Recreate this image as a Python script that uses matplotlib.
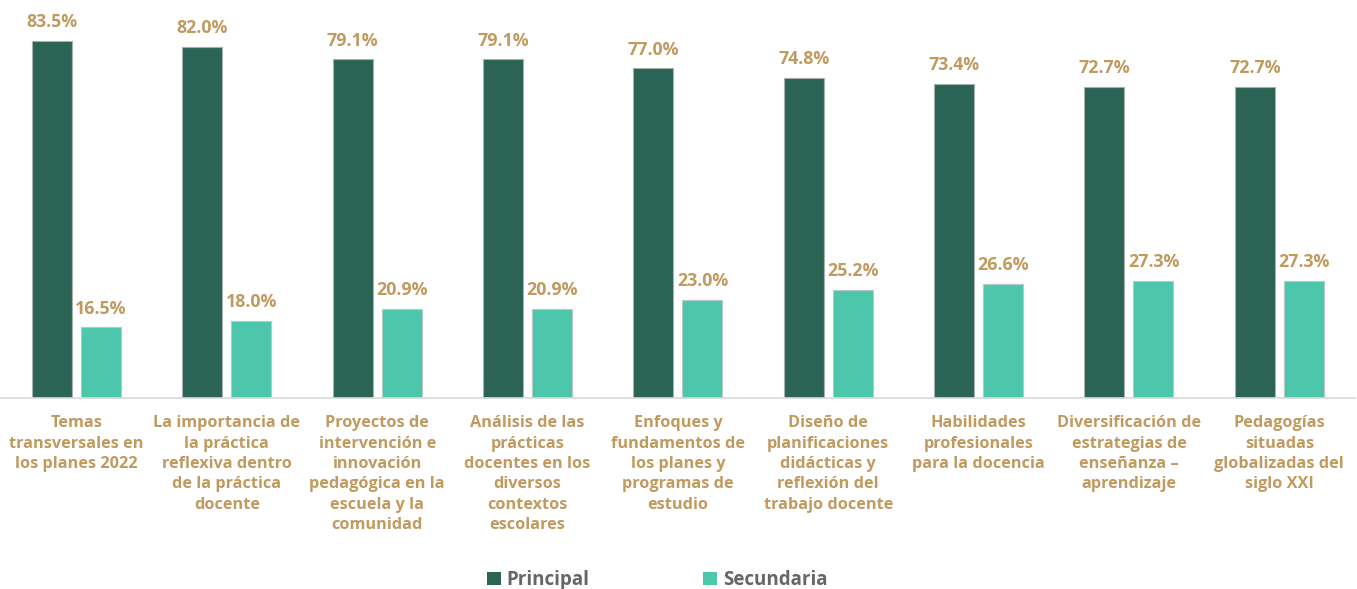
import numpy as np
import matplotlib.pyplot as plt
from matplotlib.patches import Patch

# --- data ---
categories = [
    "Temas\ntransversales en\nlos planes 2022",
    "La importancia de\nla práctica\nreflexiva dentro\nde la práctica\ndocente",
    "Proyectos de\nintervención e\ninnovación\npedagógica en la\nescuela y la\ncomunidad",
    "Análisis de las\nprácticas\ndocentes en los\ndiversos\ncontextos\nescolares",
    "Enfoques y\nfundamentos de\nlos planes y\nprogramas de\nestudio",
    "Diseño de\nplanificaciones\ndidácticas y\nreflexión del\ntrabajo docente",
    "Habilidades\nprofesionales\npara la docencia",
    "Diversificación de\nestrategias de\nenseñanza –\naprendizaje",
    "Pedagogías\nsituadas\nglobalizadas del\nsiglo XXI",
]
principal = [83.5, 82.0, 79.1, 79.1, 77.0, 74.8, 73.4, 72.7, 72.7]
secundaria = [16.5, 18.0, 20.9, 20.9, 23.0, 25.2, 26.6, 27.3, 27.3]

DARK = "#2b6455"
TEAL = "#4cc7ab"
GOLD = "#c09a5f"
GRAY = "#666666"

plt.rcParams['font.family'] = ['Open Sans', 'DejaVu Sans']

fig = plt.figure(figsize=(13.57, 5.89), dpi=100)
ax = fig.add_axes([1.3 / 1357, 1 - 398 / 589, 1353.2 / 1357, 398 / 589])

x = np.arange(len(categories))
w = 0.266
off = 0.163
b1 = ax.bar(x - off, principal, w, color=DARK, edgecolor="#a8b0ad", linewidth=0.8)
b2 = ax.bar(x + off, secundaria, w, color=TEAL, edgecolor="#b8c8c2", linewidth=0.8)

for bars, vals in ((b1, principal), (b2, secundaria)):
    for rect, v in zip(bars, vals):
        ax.annotate(f"{v:.1f}%", (rect.get_x() + rect.get_width() / 2, v),
                    xytext=(0, 7), textcoords="offset points",
                    ha="center", va="bottom", color=GOLD,
                    fontsize=12.8, fontweight="bold")

ax.set_xlim(-0.5, len(categories) - 0.5)
ax.set_ylim(0, 398 / 4.28)
ax.set_xticks(x)
ax.set_xticklabels(categories, color=GOLD, fontsize=11.7, fontweight="bold",
                   linespacing=1.36)
ax.tick_params(axis="x", length=0, pad=12.5)
ax.set_yticks([])
for s in ("top", "right", "left"):
    ax.spines[s].set_visible(False)
ax.spines["bottom"].set_color("#d9d9d9")
ax.spines["bottom"].set_linewidth(1.2)

handles = [Patch(facecolor=DARK, label="Principal"),
           Patch(facecolor=TEAL, label="Secundaria")]
leg = fig.legend(handles=handles, loc="center", bbox_to_anchor=(657 / 1357, 1 - 580 / 589),
                 ncol=2, frameon=False, columnspacing=6.05, handlelength=0.75,
                 handleheight=0.75, handletextpad=0.3,
                 prop={"weight": "bold", "size": 13.5})
for t in leg.get_texts():
    t.set_color(GRAY)

fig.savefig("out.png", dpi=100)
